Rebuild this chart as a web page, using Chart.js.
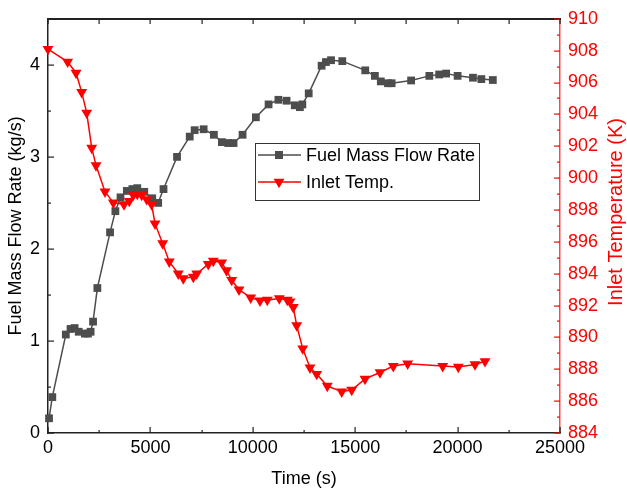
<!DOCTYPE html>
<html><head><meta charset="utf-8">
<script src="https://cdn.jsdelivr.net/npm/chart.js@4/dist/chart.umd.min.js"></script>
<style>html,body{margin:0;padding:0;background:#fff}#wrap{width:627px;height:490px;position:relative}</style>
</head><body><div id="wrap"><canvas id="c" width="627" height="490"></canvas></div>
<script>
// ---- data ----
const massTime = [50, 210, 870, 1100, 1300, 1500, 1800, 1950, 2080, 2200, 2410, 3030, 3290, 3540, 3850, 4120, 4360, 4700, 5090, 5380, 5640, 6300, 6920, 7160, 7600, 8100, 8490, 8800, 9060, 9500, 10150, 10770, 11250, 11650, 12050, 12300, 12420, 12730, 13360, 13570, 13820, 14370, 15490, 15960, 16250, 16600, 16780, 17730, 18620, 19100, 19440, 20000, 20750, 21160, 21720];
const massValues = [0.16, 0.39, 1.07, 1.13, 1.14, 1.10, 1.08, 1.08, 1.10, 1.21, 1.575, 2.18, 2.41, 2.56, 2.63, 2.65, 2.66, 2.62, 2.55, 2.50, 2.65, 3.00, 3.22, 3.29, 3.30, 3.24, 3.16, 3.15, 3.15, 3.24, 3.43, 3.57, 3.62, 3.61, 3.56, 3.54, 3.57, 3.69, 3.99, 4.03, 4.05, 4.04, 3.94, 3.88, 3.82, 3.80, 3.80, 3.83, 3.88, 3.895, 3.905, 3.88, 3.86, 3.845, 3.835];
const tempTime = [0, 960, 1370, 1645, 1890, 2135, 2345, 2783, 3190, 3710, 3970, 4165, 4360, 4575, 4820, 5060, 5225, 5600, 5923, 6362, 6606, 7095, 7261, 7827, 8071, 8481, 8716, 8970, 9326, 9897, 10352, 10708, 11294, 11685, 11816, 11977, 12144, 12437, 12793, 13120, 13638, 14341, 14829, 15479, 16211, 16860, 17563, 19272, 20034, 20850, 21338];
const tempValues = [908.1, 907.3, 906.6, 905.4, 904.1, 901.9, 900.8, 899.15, 898.46, 898.35, 898.56, 898.94, 899.0, 898.94, 898.67, 898.35, 897.14, 895.9, 894.75, 894.0, 893.7, 893.8, 894.0, 894.6, 894.8, 894.7, 894.2, 893.6, 893.0, 892.5, 892.3, 892.35, 892.45, 892.35, 892.25, 891.9, 890.75, 889.3, 888.1, 887.7, 886.95, 886.6, 886.7, 887.4, 887.8, 888.2, 888.35, 888.2, 888.15, 888.3, 888.5];

const seriesLabels = ['Fuel Mass Flow Rate', 'Inlet Temp.'];
const xTickValues = [0, 5000, 10000, 15000, 20000, 25000];
const massTickValues = [0, 1, 2, 3, 4];
const tempTickValues = [884, 886, 888, 890, 892, 894, 896, 898, 900, 902, 904, 906, 908, 910];
const xTitle = 'Time (s)';
const massTitle = 'Fuel Mass Flow Rate (kg/s)';
const tempTitle = 'Inlet Temperature (K)';

// ---- styling ----
const FONT = 'Liberation Sans, Arial, sans-serif';
const GRAY = '#4d4d4d';
const RED = '#ff0000';
const AXIS = '#222222';

function toPoints(xs, ys) { return xs.map((x, i) => ({x: x, y: ys[i]})); }

function drawFrame(chart) {
  const ctx = chart.ctx;
  const xS = chart.scales.x, yS = chart.scales.y, rS = chart.scales.y1;
  const L = Math.round(xS.getPixelForValue(xS.min));
  const R = Math.round(xS.getPixelForValue(xS.max));
  const T = Math.round(yS.getPixelForValue(yS.max));
  const B = Math.round(yS.getPixelForValue(yS.min));
  ctx.save();
  ctx.globalAlpha = 1;
  ctx.globalCompositeOperation = 'source-over';
  ctx.fillStyle = AXIS;
  // top border as a filled strip
  ctx.fillRect(L - 1, T - 1, R - L + 2, 2);
  // x ticks: bottom and top
  const step = (xTickValues[1] - xTickValues[0]) / 2;
  for (let v = xTickValues[0]; v <= xTickValues[xTickValues.length - 1]; v += step) {
    const px = Math.round(xS.getPixelForValue(v));
    const major = xTickValues.indexOf(v) >= 0;
    const len = major ? 6 : 3;
    ctx.fillRect(px - 0.5, B - len, 1.2, len);
    ctx.fillRect(px - 0.5, T, 1.2, 5);
  }
  // left y ticks
  for (let v = 0; v <= 4.5; v += 0.5) {
    const py = Math.round(yS.getPixelForValue(v));
    const major = massTickValues.indexOf(v) >= 0;
    ctx.fillRect(L, py - 0.5, major ? 6 : 3, 1.2);
  }
  // right y ticks
  ctx.fillStyle = RED;
  for (let v = 884; v <= 910; v += 1) {
    const py = Math.round(rS.getPixelForValue(v));
    const major = tempTickValues.indexOf(v) >= 0;
    const len = major ? 6 : 3;
    ctx.fillRect(R - len, py - 0.5, len, 1.2);
  }
  // right axis title (reads bottom to top, as in the reference)
  ctx.translate(616, 212);
  ctx.rotate(-Math.PI / 2);
  ctx.fillStyle = RED;
  ctx.font = '20px ' + FONT;
  ctx.textAlign = 'center';
  ctx.textBaseline = 'middle';
  ctx.fillText(tempTitle, 0, 0);
  ctx.restore();
}

function drawLegendBox(chart) {
  const ctx = chart.ctx;
  const bx = 255.5, by = 143.5, bw = 224, bh = 57;
  ctx.save();
  ctx.fillStyle = '#fff';
  ctx.fillRect(bx, by, bw, bh);
  ctx.strokeStyle = '#333';
  ctx.lineWidth = 1;
  ctx.strokeRect(bx, by, bw, bh);
  const rows = [155, 182];
  seriesLabels.forEach((lab, i) => {
    const ds = chart.data.datasets.find(d => d.label === lab);
    const yy = rows[i];
    ctx.strokeStyle = ds.borderColor; ctx.lineWidth = 1.5;
    ctx.beginPath(); ctx.moveTo(258, yy); ctx.lineTo(301, yy); ctx.stroke();
    ctx.fillStyle = ds.backgroundColor;
    const cx = 279;
    if (ds.pointStyle === 'rect') {
      ctx.fillRect(cx - 4, yy - 4, 8, 8);
    } else {
      const r = ds.pointRadius;
      ctx.beginPath();
      ctx.moveTo(cx - r * 0.866, yy - r * 0.5);
      ctx.lineTo(cx + r * 0.866, yy - r * 0.5);
      ctx.lineTo(cx, yy + r);
      ctx.closePath(); ctx.fill();
    }
    ctx.fillStyle = '#000';
    ctx.font = '18px ' + FONT;
    ctx.textBaseline = 'middle';
    ctx.textAlign = 'left';
    ctx.fillText(ds.label, 306, yy + 1);
  });
  ctx.restore();
}

const decorations = {
  id: 'decorations',
  afterDraw(chart) {
    drawFrame(chart);
    drawLegendBox(chart);
  }
};

new Chart(document.getElementById('c'), {
  type: 'line',
  data: {
    datasets: [
      {
        label: seriesLabels[1], data: toPoints(tempTime, tempValues), xAxisID: 'x', yAxisID: 'y1', order: 0,
        borderColor: RED, backgroundColor: RED, borderWidth: 1.5,
        pointStyle: 'triangle', pointRotation: 180, pointRadius: 6.3, pointBorderWidth: 0,
        tension: 0, clip: false
      },
      {
        label: seriesLabels[0], data: toPoints(massTime, massValues), xAxisID: 'x', yAxisID: 'y', order: 1,
        borderColor: GRAY, backgroundColor: GRAY, borderWidth: 1.5,
        pointStyle: 'rect', pointRadius: 5.5, pointBorderWidth: 0,
        tension: 0, clip: false
      }
    ]
  },
  options: {
    responsive: false, animation: false, devicePixelRatio: 1,
    layout: {padding: {top: 17}},
    plugins: {legend: {display: false}, tooltip: {enabled: false}},
    scales: {
      x: {
        type: 'linear', position: 'bottom', min: 0, max: 25000,
        afterBuildTicks: s => { s.ticks = xTickValues.map(v => ({value: v})); },
        afterFit: s => { s.height = 57; },
        ticks: {font: {family: FONT, size: 18}, color: '#000', padding: 4, maxRotation: 0, autoSkip: false,
                callback: v => String(v)},
        grid: {drawOnChartArea: false, drawTicks: false},
        border: {display: true, color: AXIS, width: 1.5},
        title: {display: true, text: xTitle, font: {family: FONT, size: 18}, color: '#000', padding: {top: 0, bottom: 0}}
      },
      y: {
        type: 'linear', position: 'left', min: 0, max: 4.5,
        afterBuildTicks: s => { s.ticks = massTickValues.map(v => ({value: v})); },
        afterFit: s => { s.width = 48; },
        ticks: {font: {family: FONT, size: 18}, color: '#000', padding: 8, autoSkip: false, callback: v => String(v)},
        grid: {drawOnChartArea: false, drawTicks: false},
        border: {display: true, color: AXIS, width: 1.5},
        title: {display: true, text: massTitle, font: {family: FONT, size: 18}, color: '#000', padding: {top: 5, bottom: 0}}
      },
      y1: {
        type: 'linear', position: 'right', min: 884, max: 910,
        afterBuildTicks: s => { s.ticks = tempTickValues.map(v => ({value: v})); },
        afterFit: s => { s.width = 67; },
        ticks: {font: {family: FONT, size: 18}, color: RED, padding: 8, autoSkip: false, callback: v => String(v)},
        grid: {drawOnChartArea: false, drawTicks: false},
        border: {display: true, color: 'rgba(255,40,40,0.85)', width: 1.5},
        title: {display: false, text: tempTitle}
      }
    }
  },
  plugins: [decorations]
});
</script>
</body></html>
